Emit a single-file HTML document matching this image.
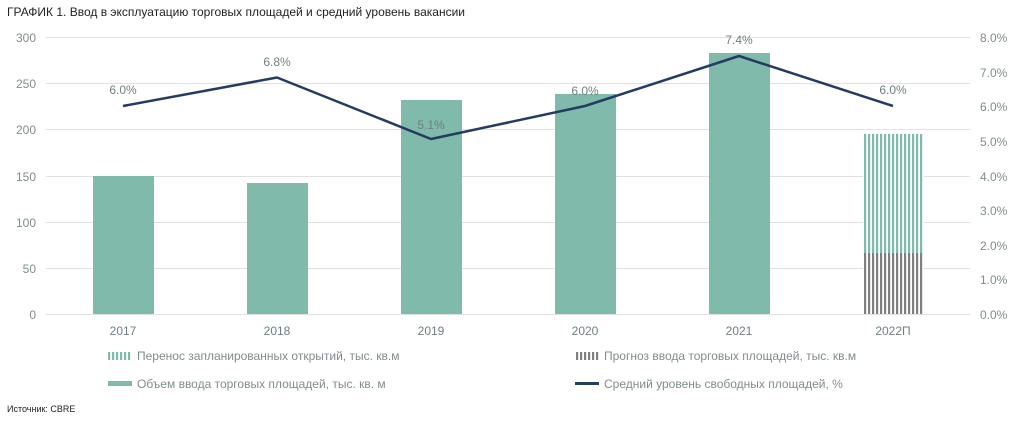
<!DOCTYPE html>
<html><head><meta charset="utf-8"><style>
body{margin:0;background:#fff;width:1024px;height:419px;overflow:hidden}
svg text{font-family:"Liberation Sans","DejaVu Sans",sans-serif}
</style></head><body>
<svg width="1024" height="419" xmlns="http://www.w3.org/2000/svg">
<defs>
<pattern id="pg" width="4" height="4" patternUnits="userSpaceOnUse"><rect width="4" height="4" fill="#fff"/><rect width="2.2" height="4" fill="#7fbaab"/></pattern>
<pattern id="pk" width="4" height="4" patternUnits="userSpaceOnUse"><rect width="4" height="4" fill="#fff"/><rect width="2.2" height="4" fill="#808080"/></pattern>
</defs>
<text x="7" y="16" font-size="12" fill="#222">ГРАФИК 1. Ввод в эксплуатацию торговых площадей и средний уровень вакансии</text>
<g stroke="#e0e0e0" stroke-width="1">
<line x1="46" x2="970" y1="37.5" y2="37.5"/><line x1="46" x2="970" y1="83.5" y2="83.5"/><line x1="46" x2="970" y1="129.5" y2="129.5"/><line x1="46" x2="970" y1="176.5" y2="176.5"/><line x1="46" x2="970" y1="222.5" y2="222.5"/><line x1="46" x2="970" y1="268.5" y2="268.5"/><line x1="46" x2="970" y1="314.5" y2="314.5"/>
</g>
<g font-size="12" fill="#7f8c8d" text-anchor="end">
<text x="36" y="42">300</text><text x="36" y="88">250</text><text x="36" y="134">200</text><text x="36" y="181">150</text><text x="36" y="227">100</text><text x="36" y="273">50</text><text x="36" y="319">0</text>
</g>
<g font-size="12" fill="#7f8c8d">
<text x="980" y="42">8.0%</text><text x="980" y="77">7.0%</text><text x="980" y="111">6.0%</text><text x="980" y="146">5.0%</text><text x="980" y="181">4.0%</text><text x="980" y="215">3.0%</text><text x="980" y="250">2.0%</text><text x="980" y="284">1.0%</text><text x="980" y="319">0.0%</text>
</g>
<g fill="#7fbaab">
<rect x="93" y="176" width="61" height="138"/><rect x="247" y="183" width="61" height="131"/><rect x="401" y="100" width="61" height="214"/><rect x="555" y="94" width="61" height="220"/><rect x="709" y="53" width="61" height="261"/>
</g>
<rect x="863" y="134" width="61" height="119" fill="url(#pg)"/>
<rect x="863" y="253" width="61" height="61" fill="url(#pk)"/>
<polyline points="123,106 277,77.5 431,139 585,106 739,56 893,106" fill="none" stroke="#253b63" stroke-width="2.5" stroke-linejoin="round"/>
<g font-size="12" fill="#6f7f80" text-anchor="middle">
<text x="123" y="94">6.0%</text><text x="277" y="66">6.8%</text><text x="431" y="129">5.1%</text><text x="585" y="95">6.0%</text><text x="739" y="44">7.4%</text><text x="893" y="94">6.0%</text>
</g>
<g font-size="12" fill="#6f7f80" text-anchor="middle">
<text x="123" y="335">2017</text><text x="277" y="335">2018</text><text x="431" y="335">2019</text><text x="585" y="335">2020</text><text x="739" y="335">2021</text><text x="893" y="335">2022П</text>
</g>
<rect x="108" y="352" width="24" height="8" fill="url(#pg)"/>
<text x="137" y="360" font-size="12" fill="#7f8c8d">Перенос запланированных открытий, тыс. кв.м</text>
<rect x="575" y="352" width="24" height="8" fill="url(#pk)"/>
<text x="604" y="360" font-size="12" fill="#7f8c8d">Прогноз ввода торговых площадей, тыс. кв.м</text>
<rect x="108" y="381" width="24" height="5" fill="#7fbaab"/>
<text x="137" y="388" font-size="12" fill="#7f8c8d">Объем ввода торговых площадей, тыс. кв. м</text>
<rect x="575" y="382" width="24" height="3" fill="#253b63"/>
<text x="604" y="388" font-size="12" fill="#7f8c8d">Средний уровень свободных площадей, %</text>
<text x="7" y="412" font-size="9" fill="#222">Источник: CBRE</text>
</svg>
</body></html>
